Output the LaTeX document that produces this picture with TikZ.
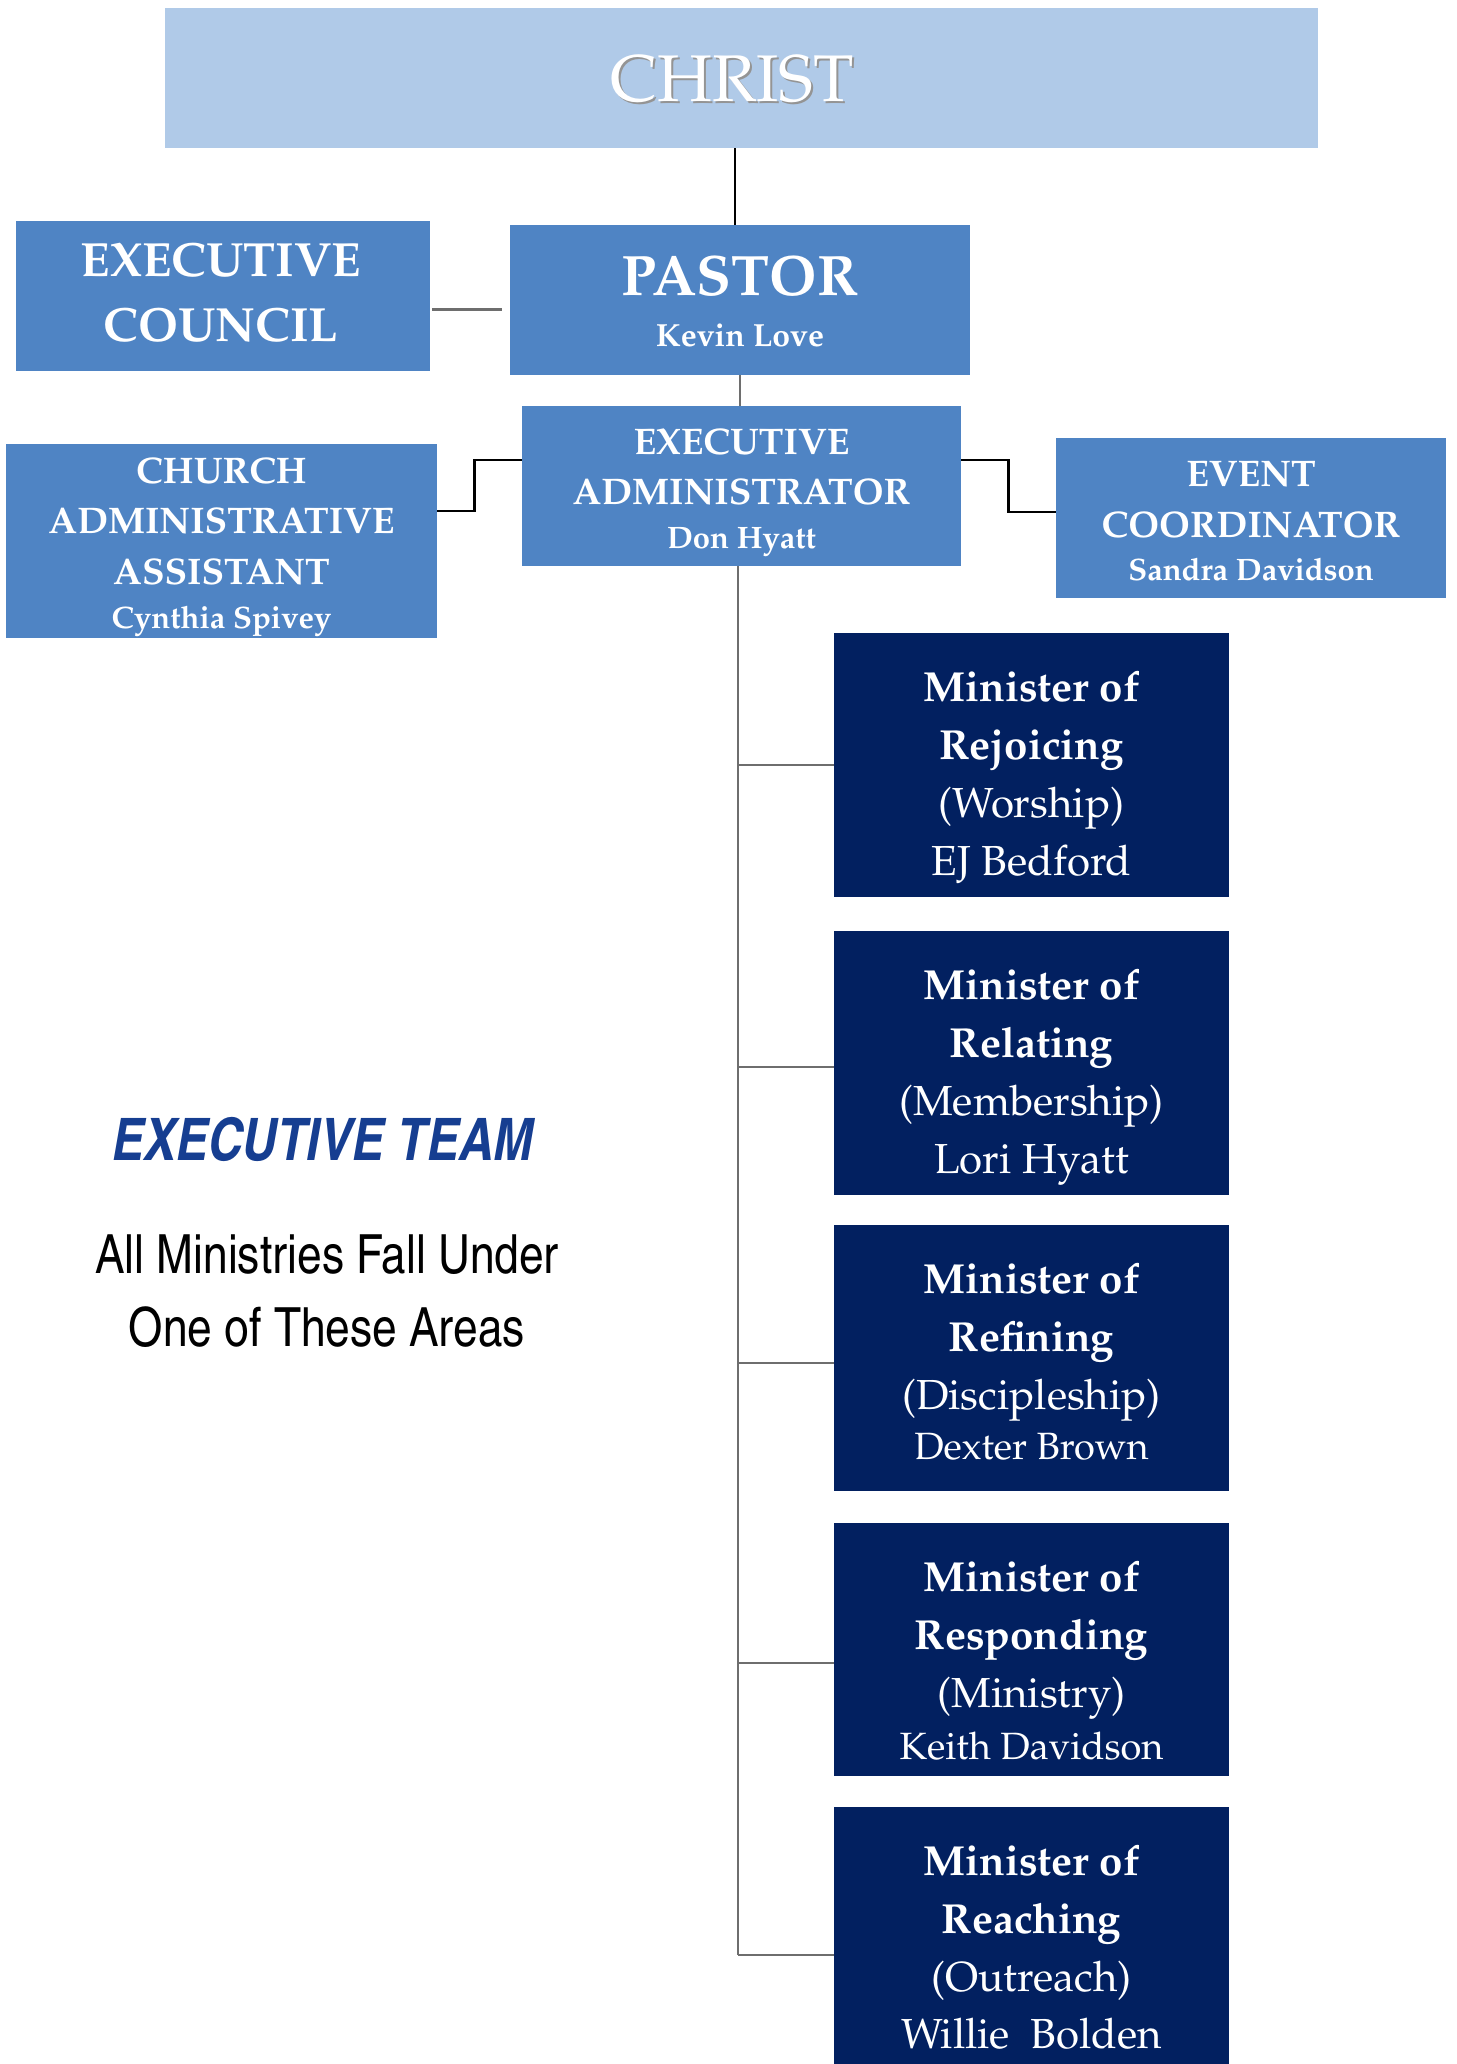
\documentclass[tikz,border=0pt]{standalone}
\usepackage[T1]{fontenc}
\renewcommand\rmdefault{ppl}
\usetikzlibrary{fit}
\definecolor{christblue}{RGB}{176,202,232}
\definecolor{midblue}{RGB}{79,132,196}
\definecolor{navy}{RGB}{2,32,96}
\definecolor{teamblue}{RGB}{22,62,145}
\definecolor{linegray}{RGB}{110,110,110}
\newcommand\mfontB{\fontsize{21}{24}\selectfont\bfseries}
\newcommand\mfontR{\fontsize{21}{24}\selectfont}
\newcommand\headB{\fontsize{18.5}{21}\selectfont\bfseries}
\newcommand\nameB{\fontsize{15.5}{18}\selectfont\bfseries}
% #1 name, #2 top, #3 bottom, #4 line2, #5 line3, #6 line4, #7 line4 offset, #8 line4 size
\newcommand\ministerbox[8]{%
  \node[nbox,fit={(834,#2)(1229,#3)}] (#1) {};
  \node[wt] (#1-a) at ([yshift=-34.5pt]#1.north) {\mfontB Minister of};
  \node[wt] (#1-b) at ([yshift=-63.5pt]#1.north) {\mfontB #4};
  \node[wt] (#1-c) at ([yshift=-92.5pt]#1.north) {\mfontR #5};
  \node[wt] (#1-d) at ([yshift=-#7]#1.north) {\fontsize{#8}{24}\selectfont #6};
}
\begin{document}
\begin{tikzpicture}[x=0.5pt,y=-0.5pt,
  lbox/.style={fill=christblue,inner sep=0pt,draw=none},
  mbox/.style={fill=midblue,inner sep=0pt,draw=none},
  nbox/.style={fill=navy,inner sep=0pt,draw=none},
  wt/.style={text=white,inner sep=0pt,anchor=base},
  gline/.style={draw=linegray,line width=1pt},
  bline/.style={draw=black,line width=1.3pt},
]
\path[use as bounding box] (0,0) rectangle (1456,2064);
\clip (0,0) rectangle (1456,2064);

% CHRIST
\node[lbox,fit={(165,8)(1318,148)}] (christ) {};
\node[wt,text=black!42] (christS) at (734.5,104) {\fontsize{33}{36}\selectfont CHRIST};
\node[wt] (christT) at (732.5,102) {\fontsize{33}{36}\selectfont CHRIST};

% PASTOR
\node[mbox,fit={(510,225)(970,375)}] (pastor) {};
\node[wt] (pastorT) at (740,296) {\fontsize{28.5}{30}\selectfont\bfseries PASTOR};
\node[wt] (pastorN) at (740,347) {\fontsize{16}{18}\selectfont\bfseries Kevin Love};

% EXECUTIVE COUNCIL
\node[mbox,fit={(16,221)(430,371)}] (ec) {};
\node[wt] (ecA) at (221,277) {\fontsize{24}{26}\selectfont\bfseries EXECUTIVE};
\node[wt] (ecB) at (221,342) {\fontsize{24}{26}\selectfont\bfseries COUNCIL};

% EXECUTIVE ADMINISTRATOR
\node[mbox,fit={(522,406)(961,566)}] (ea) {};
\node[wt] (eaA) at (741.5,454) {\headB EXECUTIVE};
\node[wt] (eaB) at (741.5,504) {\headB ADMINISTRATOR};
\node[wt] (eaC) at (741.5,548) {\nameB Don Hyatt};

% CHURCH ADMINISTRATIVE ASSISTANT
\node[mbox,fit={(6,444)(437,638)}] (caa) {};
\node[wt] (caaA) at (221.5,483) {\headB CHURCH};
\node[wt] (caaB) at (221.5,533) {\headB ADMINISTRATIVE};
\node[wt] (caaC) at (221.5,584) {\headB ASSISTANT};
\node[wt] (caaD) at (221.5,628) {\nameB Cynthia Spivey};

% EVENT COORDINATOR
\node[mbox,fit={(1056,438)(1446,598)}] (ev) {};
\node[wt] (evA) at (1251,487) {\headB EVENT};
\node[wt] (evB) at (1251,537) {\headB COORDINATOR};
\node[wt] (evC) at (1251,580) {\nameB Sandra Davidson};

% Ministers
\ministerbox{m1}{633}{897}{Rejoicing}{(Worship)}{EJ Bedford}{121.5pt}{21}
\ministerbox{m2}{931}{1195}{Relating}{(Membership)}{Lori Hyatt}{121.5pt}{21}
\ministerbox{m3}{1225}{1491}{Refining}{(Discipleship)}{Dexter Brown}{117.5pt}{19}
\ministerbox{m4}{1523}{1776}{Responding}{(Ministry)}{Keith Davidson}{118.5pt}{19}
\ministerbox{m5}{1807}{2074}{Reaching}{(Outreach)}{Willie\ \ Bolden}{121pt}{21}

% Left text
\node[anchor=base,inner sep=0pt,text=teamblue] (team) at (321,1160)
  {\fontfamily{phv}\fontseries{bc}\fontshape{sl}\fontsize{29.3}{32}\selectfont EXECUTIVE TEAM};
\node[anchor=base,inner sep=0pt] (all1) at (327,1273)
  {\fontfamily{phv}\fontseries{mc}\fontshape{n}\fontsize{27}{30}\selectfont All Ministries Fall Under};
\node[anchor=base,inner sep=0pt] (all2) at (327,1346)
  {\fontfamily{phv}\fontseries{mc}\fontshape{n}\fontsize{27}{30}\selectfont One of These Areas};

% Connectors
\draw[draw=black,line width=1pt] ([xshift=-3.5pt]christ.south) -- ([xshift=-3.5pt]christ.south |- pastor.north);
\draw[gline,line width=0.8pt] (pastor.south) -- (pastor.south |- ea.north);
\draw[draw=linegray,line width=1.5pt] ([xshift=1pt,yshift=-7pt]ec.east) -- ([xshift=-4pt,yshift=-5pt]pastor.west);
\draw[bline] ([yshift=15pt]caa.east) -- ++(18.5pt,0) |- ([yshift=13pt]ea.west);
\draw[bline] ([yshift=13pt]ea.east) -- ++(23.5pt,0) |- ([yshift=3pt]ev.west);

\coordinate (j1) at ([yshift=0pt]m1.west);
\coordinate (j2) at ([yshift=-2pt]m2.west);
\coordinate (j3) at ([yshift=-2.5pt]m3.west);
\coordinate (j4) at ([yshift=-6.75pt]m4.west);
\coordinate (j5) at ([yshift=-7.25pt]m5.west);
\draw[gline] ([xshift=-2pt]ea.south) -- ([xshift=-2pt]ea.south |- j5);
\foreach \j in {j1,j2,j3,j4,j5}{
  \draw[gline] ([xshift=-2pt]ea.south |- \j) -- (\j);
}
\end{tikzpicture}
\end{document}
